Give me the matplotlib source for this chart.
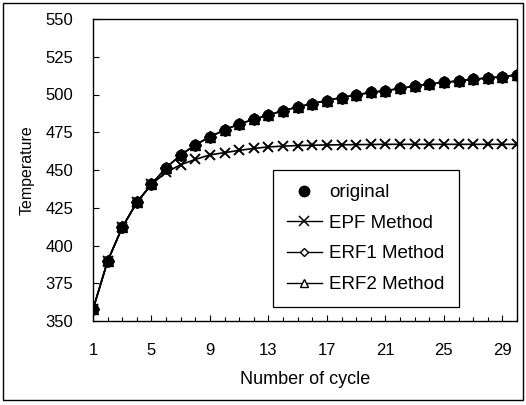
import matplotlib
matplotlib.use("Agg")
import matplotlib.pyplot as plt
from matplotlib.lines import Line2D
from matplotlib.patches import Rectangle

plt.rcParams['font.family'] = ['Liberation Sans', 'DejaVu Sans']

cycles = list(range(1, 31))
original = [357.7, 389.7, 412.0, 428.6, 440.5, 451.5, 460.0, 466.6, 472.0, 476.5,
            480.5, 483.5, 486.4, 489.3, 491.7, 494.0, 496.0, 498.0, 499.7, 501.4,
            502.5, 504.0, 505.6, 507.0, 508.0, 509.0, 510.0, 511.0, 511.8, 513.0]
epf = [357.7, 389.7, 412.0, 428.6, 440.5, 448.5, 453.5, 457.0, 460.0, 461.5,
       463.0, 464.3, 465.3, 465.8, 466.2, 466.4, 466.6, 466.7, 466.8, 466.9,
       467.0, 467.0, 467.0, 467.0, 467.0, 467.0, 467.0, 467.0, 467.0, 467.0]
erf1 = list(original)
erf2 = list(original)

yticks = [350, 375, 400, 425, 450, 475, 500, 525, 550]
xticks = [1, 5, 9, 13, 17, 21, 25, 29]

W, H = 526, 405
fig = plt.figure(figsize=(W / 100, H / 100), dpi=100)
fig.patches.append(Rectangle((3 / W, 5 / H), 520 / W, 397 / H, transform=fig.transFigure,
                             fill=False, edgecolor='black', linewidth=1.0))
ax = fig.add_axes([93 / W, (H - 321) / H, (517 - 93) / W, (321 - 19) / H])

ms = 7.5
ax.plot(cycles, epf, color='black', lw=1.2, marker='x', ms=ms, mew=1.4, zorder=2)
ax.plot(cycles, erf1, color='black', lw=1.2, marker='D', ms=ms - 1, mfc='black', mec='black', zorder=3)
ax.plot(cycles, erf2, color='black', lw=1.2, marker='^', ms=ms, mfc='black', mec='black', zorder=3)
ax.plot(cycles, original, color='black', lw=0, marker='o', ms=ms, mfc='black', mec='black', zorder=4)

ax.set_xlim(1, 30)
ax.set_ylim(350, 550)
ax.set_xticks(xticks)
ax.set_xticks(cycles, minor=True)
ax.set_yticks(yticks)
ax.tick_params(axis='both', which='major', direction='in', length=4, width=0.8, labelsize=12)
ax.tick_params(axis='x', which='major', pad=16)
ax.tick_params(axis='y', which='major', pad=14)
ax.tick_params(axis='x', which='minor', direction='in', length=3, width=0.8)

for side in ['top', 'right', 'bottom']:
    ax.spines[side].set_linestyle((0, (1, 1)))
    ax.spines[side].set_linewidth(1.0)
ax.spines['left'].set_linewidth(1.0)

ax.set_xlabel('Number of cycle', fontsize=13, labelpad=9)
ax.set_ylabel('Temperature', fontsize=11.5, labelpad=8)

handles = [
    Line2D([], [], color='black', lw=0, marker='o', ms=ms),
    Line2D([], [], color='black', lw=1.0, marker='x', ms=6.5, mew=1.1),
    Line2D([], [], color='black', lw=1.0, marker='D', ms=4, mfc='white'),
    Line2D([], [], color='black', lw=1.0, marker='^', ms=6, mfc='white'),
]
labels = ['original', 'EPF Method', 'ERF1 Method', 'ERF2 Method']
leg = ax.legend(handles, labels, loc='upper left',
                bbox_to_anchor=((273 - 93) / 424, 1 - (170 - 19) / 302),
                borderaxespad=0, fontsize=13.5, frameon=True, fancybox=False,
                edgecolor='black', framealpha=1, handlelength=1.85,
                handletextpad=0.4, labelspacing=0.72, borderpad=0.75)
leg.get_frame().set_linewidth(0.9)

fig.savefig('out.png', dpi=100)
